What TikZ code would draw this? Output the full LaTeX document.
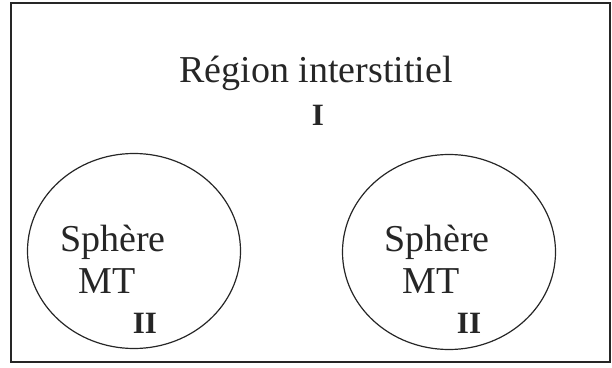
\documentclass[tikz,border=0pt]{standalone}
\usepackage{fontspec}
\setmainfont{Liberation Serif}
\usetikzlibrary{shapes.geometric}
\definecolor{ink}{HTML}{262626}
\tikzset{
  frame/.style={draw=ink, line width=1.3pt, rectangle, inner sep=0pt},
  sphere/.style={draw=ink, line width=1.2pt, ellipse, inner sep=0pt, minimum width=213pt, minimum height=195pt},
  lbl/.style={text=ink, anchor=base, inner sep=0pt, font=\fontsize{38}{44}\selectfont},
  num/.style={text=ink, anchor=base, inner sep=0pt, font=\fontsize{31}{36}\selectfont\bfseries},
}
\begin{document}
\begin{tikzpicture}[x=1pt,y=1pt]
\useasboundingbox (0,0) rectangle (612,367);
\node[frame, minimum width=599pt, minimum height=359pt] (region) at (310.5,184.5) {};
\node[sphere] (sphL) at (134,116) {};
\node[sphere] (sphR) at (449,115) {};
\node[lbl] (title) at (316,284) {Région interstitiel};
\node[num] (numI) at (318,241) {I};
\node[lbl] (sL) at (113,116) {Sphère};
\node[lbl] (mL) at (107,74) {MT};
\node[num] (nL) at (145,34) {II};
\node[lbl] (sR) at (437,116) {Sphère};
\node[lbl] (mR) at (431,74) {MT};
\node[num] (nR) at (469,34) {II};
\end{tikzpicture}
\end{document}
